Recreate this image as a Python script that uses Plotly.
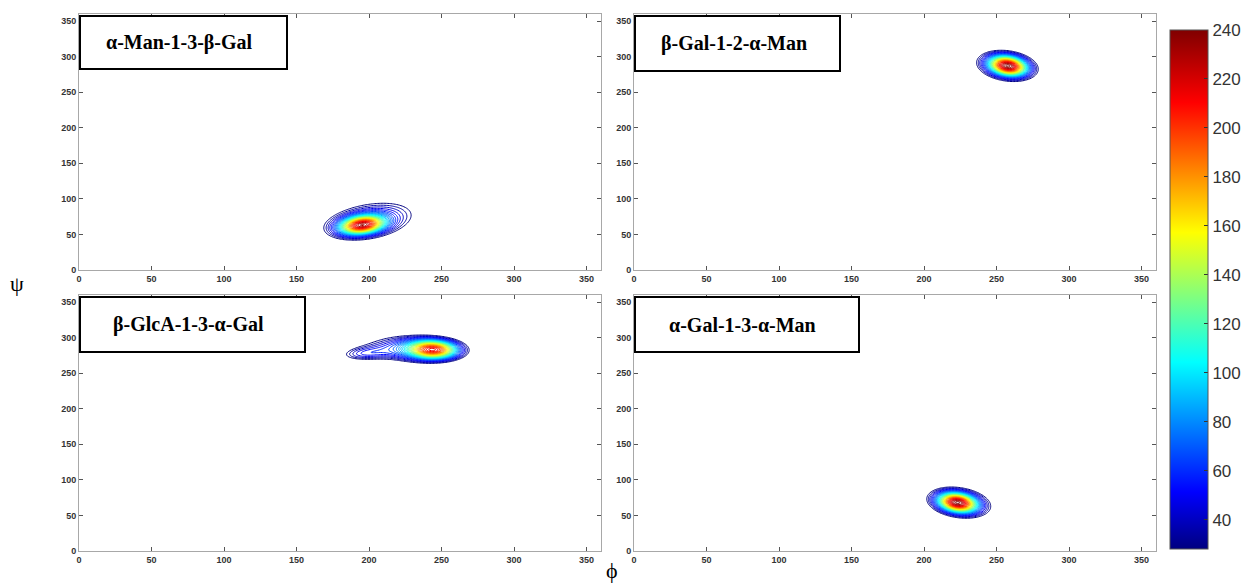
import numpy as np
import plotly.graph_objects as go

W, H = 1246, 585

# ---- data: panel titles and blob descriptions ----
titles = ["α-Man-1-3-β-Gal", "β-Gal-1-2-α-Man", "β-GlcA-1-3-α-Gal", "α-Gal-1-3-α-Man"]

# each panel: components [phi0, psi0, sig_major, sig_minor, angle_deg, peak]
blobs_p1 = [[195, 63, 11, 8, 25, 170], [201, 70, 26, 18, 32, 70]]
blobs_p2 = [[258, 287, 10, 8, -50, 175], [257, 287, 17, 14, -50, 68]]
blobs_p3 = [[245, 283, 12, 9, -5, 165], [228, 285, 23, 14, -3, 70], [195, 277, 12, 7, 10, 40]]
blobs_p4 = [[223, 68, 10, 8, -45, 175], [225, 68, 18, 14, -45, 68]]
blobs = [blobs_p1, blobs_p2, blobs_p3, blobs_p4]

phi = np.arange(0, 361, 1.0)
psi = np.arange(0, 361, 1.0)

cb_ticks = [40, 60, 80, 100, 120, 140, 160, 180, 200, 220, 240]
axis_ticks = [0, 50, 100, 150, 200, 250, 300, 350]

jet = [[0.0, "rgb(0,0,128)"], [0.11, "rgb(0,0,255)"], [0.36, "rgb(0,255,255)"],
       [0.61, "rgb(255,255,0)"], [0.86, "rgb(255,0,0)"], [1.0, "rgb(128,0,0)"]]
CMIN, CMAX = 28, 240


def density(comps):
    P, S = np.meshgrid(phi, psi)
    z = np.zeros_like(P, dtype=float)
    for x0, y0, sa, sb, ang, pk in comps:
        t = np.deg2rad(ang)
        dx, dy = P - x0, S - y0
        u = dx * np.cos(t) + dy * np.sin(t)
        v = -dx * np.sin(t) + dy * np.cos(t)
        z += pk * np.exp(-0.5 * ((u / sa) ** 2 + (v / sb) ** 2))
    return z


def px2x(p):
    return p / W


def px2y(p):
    return 1 - p / H


# panel pixel boxes: (left, right, top, bottom)
panels = [(79, 601, 14, 270), (634, 1156, 14, 270), (79, 601, 295, 551), (634, 1156, 295, 551)]
boxes = [(80, 287, 16, 69), (635, 840, 16, 71), (80, 305, 297, 352), (635, 859, 297, 352)]

fig = go.Figure()
layout = dict(width=W, height=H, margin=dict(l=0, r=0, t=0, b=0, autoexpand=False),
              paper_bgcolor="white", plot_bgcolor="white", showlegend=False)

shapes, annotations = [], []
for i, (l, r, t, b) in enumerate(panels):
    n = "" if i == 0 else str(i + 1)
    fig.add_trace(go.Contour(
        x=phi, y=psi, z=density(blobs[i]), colorscale=jet, zmin=CMIN, zmax=CMAX,
        showscale=False,
        contours=dict(coloring="lines", start=36, end=240, size=6),
        line=dict(width=1), xaxis="x" + n, yaxis="y" + n, hoverinfo="skip"))
    ax = dict(range=[0, 360], tickvals=axis_ticks, ticks="inside", ticklen=4,
              tickcolor="#555", showline=True, linecolor="#a8a8a8", linewidth=1,
              mirror="allticks", showgrid=False, zeroline=False,
              tickfont=dict(family="Arial", size=9, color="#333", weight="bold"))
    layout["xaxis" + n] = dict(ax, domain=[px2x(l), px2x(r)], anchor="y" + n)
    layout["yaxis" + n] = dict(ax, domain=[px2y(b), px2y(t)], anchor="x" + n)
    bl, br, bt, bb = boxes[i]
    shapes.append(dict(type="rect", xref="paper", yref="paper",
                       x0=px2x(bl), x1=px2x(br), y0=px2y(bb), y1=px2y(bt),
                       line=dict(color="black", width=2), fillcolor="white", layer="above"))
    annotations.append(dict(xref="paper", yref="paper", x=px2x((bl + br) / 2 - 4),
                            y=px2y((bt + bb) / 2), text="<b>%s</b>" % titles[i],
                            showarrow=False, xanchor="center", yanchor="middle",
                            font=dict(family="Liberation Serif", size=20, color="black")))

annotations.append(dict(xref="paper", yref="paper", x=px2x(17), y=px2y(283), text="ψ",
                        showarrow=False, xanchor="center", yanchor="middle",
                        font=dict(family="Liberation Serif", size=22, color="black")))
annotations.append(dict(xref="paper", yref="paper", x=px2x(612), y=0, text="ϕ",
                        showarrow=False, xanchor="center", yanchor="bottom",
                        font=dict(family="Liberation Serif", size=22, color="black")))

# colour bar carried by an invisible scatter (gives a continuous gradient bar)
fig.add_trace(go.Scatter(
    x=[None], y=[None], mode="markers", hoverinfo="skip",
    marker=dict(color=[CMIN], colorscale=jet, cmin=CMIN, cmax=CMAX, showscale=True,
                colorbar=dict(x=px2x(1170), xanchor="left", xpad=0, ypad=0,
                              y=px2y(289.5), yanchor="middle", len=519 / H, lenmode="fraction",
                              thickness=38, thicknessmode="pixels", outlinewidth=1,
                              outlinecolor="#555", tickvals=cb_ticks, ticks="inside",
                              ticklen=4, tickcolor="#333",
                              tickfont=dict(family="Arial", size=17, color="#333")))))

layout["shapes"] = shapes
layout["annotations"] = annotations
fig.update_layout(**layout)
fig.write_html("out.html")
